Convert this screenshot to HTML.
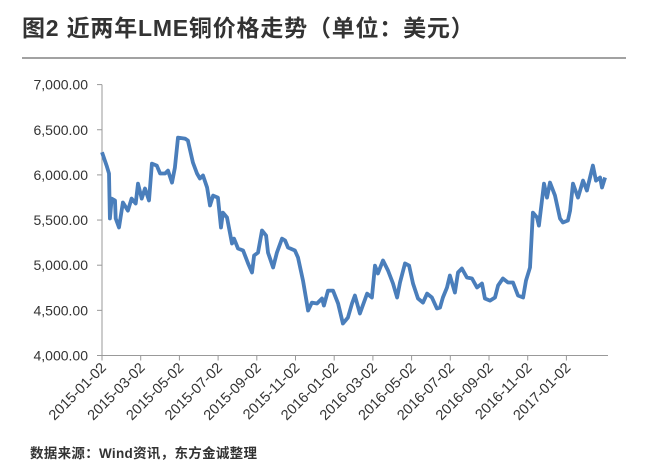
<!DOCTYPE html>
<html><head><meta charset="utf-8"><style>
body{margin:0;background:#fff;width:652px;height:476px;overflow:hidden;font-family:"Liberation Sans","Noto Sans CJK SC",sans-serif}
</style></head><body>
<svg width="652" height="476" style="position:absolute;left:0;top:0">
<text x="22" y="36" font-size="23" font-weight="bold" fill="#333" letter-spacing="0.8" font-family="'Liberation Sans','Noto Sans CJK SC',sans-serif">图2  近两年LME铜价格走势（单位：美元）</text>
<line x1="22" y1="58" x2="626" y2="58" stroke="#444" stroke-width="1"/>
<g id="axes"></g>
<g id="plot"></g>
<text x="30" y="458" font-size="13.5" font-weight="bold" fill="#333" letter-spacing="0.3" font-family="'Liberation Sans','Noto Sans CJK SC',sans-serif">数据来源：Wind资讯，东方金诚整理</text>
</svg>
<script>
const months=[0,0.24,0.36,0.41,0.50,0.67,0.71,0.88,1.08,1.34,1.53,1.74,1.86,2.05,2.22,2.43,2.58,2.83,3.00,3.26,3.41,3.62,3.77,3.93,4.29,4.44,4.70,4.91,5.06,5.22,5.43,5.58,5.74,5.99,6.15,6.25,6.46,6.72,6.82,7.03,7.29,7.55,7.75,7.86,8.06,8.27,8.48,8.58,8.84,9.04,9.30,9.46,9.61,9.97,10.13,10.39,10.65,10.85,11.11,11.37,11.47,11.68,11.94,12.20,12.45,12.71,12.92,13.07,13.33,13.70,13.95,14.11,14.26,14.52,14.78,15.04,15.25,15.40,15.66,15.87,16.07,16.33,16.59,16.80,17.05,17.31,17.47,17.62,17.83,17.98,18.24,18.40,18.60,18.86,19.12,19.38,19.64,19.79,20.05,20.31,20.47,20.72,20.98,21.24,21.50,21.76,21.91,22.12,22.27,22.48,22.58,22.84,23.00,23.15,23.41,23.67,23.82,24.08,24.19,24.34,24.60,24.86,25.06,25.22,25.37,25.53,25.74,25.84,26.00];
const prices=[6250,6103,6015,5517,5738,5716,5517,5417,5694,5605,5738,5683,5904,5738,5849,5716,6125,6103,6015,6015,6048,5915,6081,6413,6402,6380,6137,6015,5960,5993,5860,5661,5771,5749,5417,5583,5528,5240,5295,5185,5163,5019,4919,5107,5140,5384,5328,5140,4974,5140,5295,5273,5196,5163,5085,4830,4498,4586,4576,4631,4553,4719,4719,4576,4354,4420,4576,4664,4465,4686,4642,4996,4908,5052,4941,4797,4642,4808,5019,4996,4797,4631,4586,4686,4642,4520,4531,4642,4753,4886,4697,4919,4963,4864,4853,4753,4797,4631,4608,4642,4775,4853,4808,4808,4664,4642,4830,4974,5583,5528,5439,5904,5749,5915,5771,5517,5473,5495,5605,5904,5749,5937,5827,5971,6103,5937,5971,5860,5971];
const yTicks=[4000,4500,5000,5500,6000,6500,7000];
const xTickLabels=["2015-01-02","2015-03-02","2015-05-02","2015-07-02","2015-09-02","2015-11-02","2016-01-02","2016-03-02","2016-05-02","2016-07-02","2016-09-02","2016-11-02","2017-01-02"];
const NS="http://www.w3.org/2000/svg";
const X0=102,PXM=19.35,Y0=355.5,PXV=0.0903;
const xs=m=>X0+m*PXM, ys=v=>Y0-(v-4000)*PXV;
const axes=document.getElementById('axes'),plot=document.getElementById('plot');
function mk(tag,attrs,parent){const e=document.createElementNS(NS,tag);for(const k in attrs)e.setAttribute(k,attrs[k]);parent.appendChild(e);return e;}
const ya=mk('line',{x1:X0,y1:ys(7000),x2:X0,y2:Y0,stroke:'#999'},axes);


const xa=mk('line',{x1:X0,y1:Y0,x2:608,y2:Y0,stroke:'#999'},axes);


yTicks.forEach(v=>{
 const t=mk('line',{x1:X0-5,y1:ys(v),x2:X0,y2:ys(v),stroke:'#999'},axes);
 
 
 const l=mk('text',{x:X0-14,y:ys(v)+5,'text-anchor':'end','font-size':'14',fill:'#333'},axes);
 l.textContent=v.toLocaleString('en-US',{minimumFractionDigits:2});
 
 
});
xTickLabels.forEach((s,i)=>{
 const x=xs(i*2);
 const t=mk('line',{x1:x,y1:Y0,x2:x,y2:Y0+5,stroke:'#999'},axes);
 
 
 const l=mk('text',{x:x+5,y:Y0+13,'text-anchor':'end','font-size':'14.5',fill:'#333',transform:`rotate(-45 ${x+5} ${Y0+13})`},axes);
 l.textContent=s;
 
 
});
const d=months.map((m,i)=>(i?'L':'M')+xs(m).toFixed(1)+' '+ys(prices[i]).toFixed(1)).join(' ');
const p=mk('path',{d:d,fill:'none',stroke:'#4a7ebb','stroke-width':'3.8','stroke-linejoin':'round'},plot);


</script>
</body></html>
